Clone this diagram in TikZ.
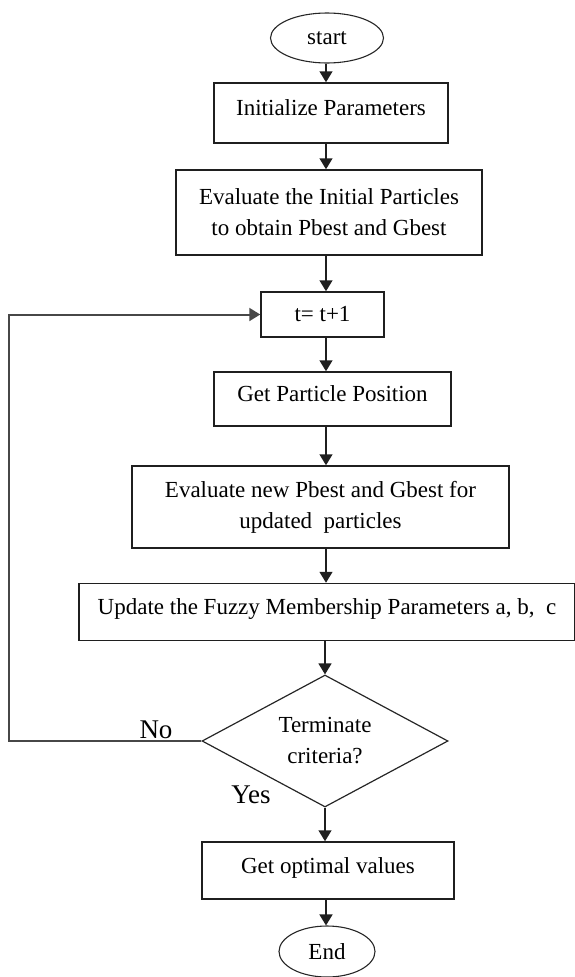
\documentclass[tikz,border=0pt]{standalone}
\usepackage{fontspec}
\setmainfont{Liberation Serif}
\usetikzlibrary{shapes.geometric,arrows.meta}
\tikzset{
  boxtxt/.style={font=\fontsize{23}{31}\selectfont, text=black},
  procbox/.style={boxtxt, draw=black!88, line width=1.5pt, rectangle, inner sep=0pt, align=center},
  hitext/.style={text height=16pt, text depth=11pt},
  termbox/.style={boxtxt, draw=black!85, line width=1.1pt, ellipse, inner sep=0pt},
  decbox/.style={boxtxt, draw=black!85, line width=1.2pt, diamond, inner sep=0pt, shape aspect=1.86, align=center},
  arr/.style={draw=black!88, line width=1.5pt, -{Triangle[width=13pt,length=11pt]}},
  looparr/.style={draw=black!72, line width=2pt, -{Triangle[width=13pt,length=11pt]}},
  lbl/.style={font=\fontsize{27}{30}\selectfont, text=black, inner sep=0pt}
}
\begin{document}
\begin{tikzpicture}[x=1pt,y=-1pt]
\useasboundingbox (0,0) rectangle (574,977);
\node[termbox, minimum width=113pt, minimum height=50pt] (start) at (327,38) {start};
\node[procbox, hitext, minimum width=234pt, minimum height=60pt] (init) at (331,113) {Initialize Parameters};
\node[procbox, minimum width=306pt, minimum height=85pt] (evali) at (329,212.5) {Evaluate the Initial Particles\\to obtain Pbest and Gbest};
\node[procbox, minimum width=123pt, minimum height=45pt] (tinc) at (322.5,314.5) {t= t+1};
\node[procbox, hitext, minimum width=237pt, minimum height=54pt] (getpos) at (332.5,399) {Get Particle Position};
\node[procbox, minimum width=377pt, minimum height=82pt] (evaln) at (320.5,507) {Evaluate new Pbest and Gbest for\\updated\ \ particles};
\node[procbox, hitext, minimum width=496pt, minimum height=57pt] (update) at (327,612) {Update the Fuzzy Membership Parameters a, b,\ \ c};
\node[decbox, minimum width=246pt, minimum height=132pt] (term) at (325,741) {Terminate\\criteria?};
\node[procbox, hitext, minimum width=252pt, minimum height=57pt] (optimal) at (328,870.5) {Get optimal values};
\node[termbox, minimum width=96pt, minimum height=51pt] (end) at (327,951.5) {End};
\coordinate (lp) at (9,743);
\coordinate (ax) at (326,0);
\draw[arr] (start.south -| ax) -- (init.north -| ax);
\draw[arr] (init.south -| ax) -- (evali.north -| ax);
\draw[arr] (evali.south -| ax) -- (tinc.north -| ax);
\draw[arr] (tinc.south -| ax) -- (getpos.north -| ax);
\draw[arr] (getpos.south -| ax) -- (evaln.north -| ax);
\draw[arr] (evaln.south -| ax) -- (update.north -| ax);
\draw[arr] (update.south -| term.north) -- (term.north);
\draw[arr] (term.south) -- (optimal.north -| term.south);
\draw[arr] (optimal.south -| ax) -- (end.north -| ax);
\draw[looparr] (term.west) -- (term.west -| lp) |- (tinc.west);
\node[lbl] (no) at (156,730) {No};
\node[lbl] (yes) at (251,795) {Yes};
\end{tikzpicture}
\end{document}
